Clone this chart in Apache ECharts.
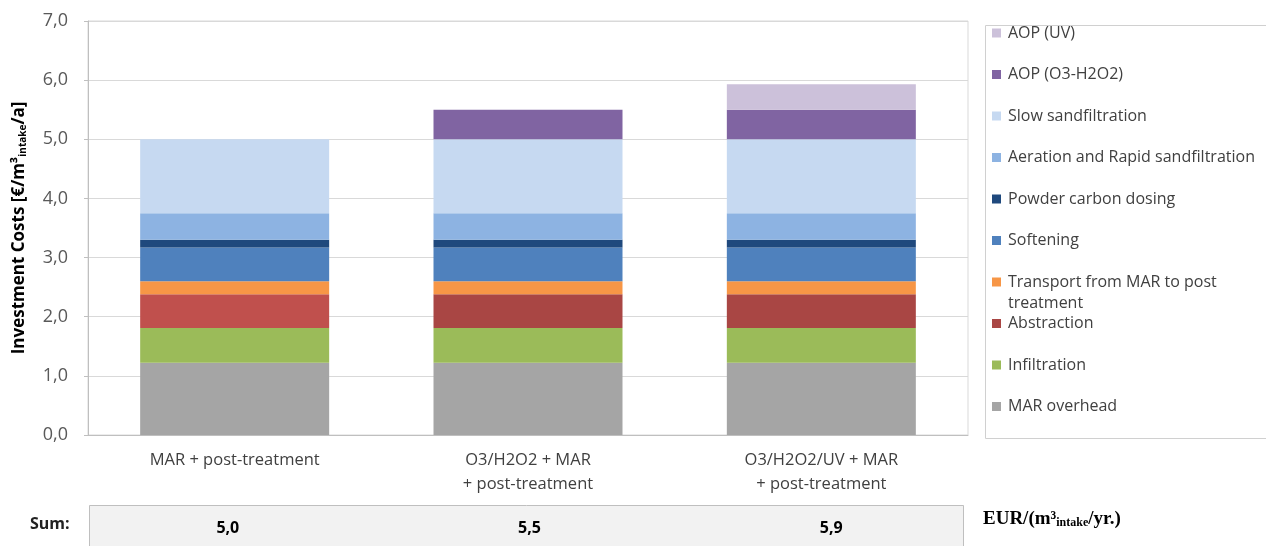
<!DOCTYPE html>
<html>
<head>
<meta charset="utf-8">
<script src="https://cdn.jsdelivr.net/npm/echarts@6/dist/echarts.min.js"></script>
<style>
  html, body { margin: 0; padding: 0; background: #fff; }
  #chart { width: 1266px; height: 546px; }
</style>
</head>
<body>
<div id="chart"></div>
<script>
// scenarios on the x axis
const categories = [
  'MAR + post-treatment',
  'O3/H2O2 + MAR\n+ post-treatment',
  'O3/H2O2/UV + MAR\n+ post-treatment'
];

// stacked cost components, bottom to top (€/m³ intake / a)
const marOverhead   = [1.22, 1.22, 1.22];
const infiltration  = [0.59, 0.59, 0.59];
const abstraction   = [0.57, 0.57, 0.57];
const transport     = [0.22, 0.22, 0.22];
const softening     = [0.57, 0.57, 0.57];
const powderCarbon  = [0.13, 0.13, 0.13];
const aeration      = [0.45, 0.45, 0.45];
const slowSand      = [1.25, 1.25, 1.25];
const aopO3         = [0, 0.50, 0.50];
const aopUV         = [0, 0, 0.43];

const yTicks = [0, 1, 2, 3, 4, 5, 6, 7];

const components = [
  { name: 'MAR overhead', data: marOverhead, color: '#a5a5a5' },
  { name: 'Infiltration', data: infiltration, color: '#9bbb59' },
  { name: 'Abstraction', data: abstraction, color: '#a94644' },
  { name: 'Transport from MAR to post', data: transport, color: '#f79646' },
  { name: 'Softening', data: softening, color: '#4f81bd' },
  { name: 'Powder carbon dosing', data: powderCarbon, color: '#1f497d' },
  { name: 'Aeration and Rapid sandfiltration', data: aeration, color: '#8db3e2' },
  { name: 'Slow sandfiltration', data: slowSand, color: '#c6d9f1' },
  { name: 'AOP (O3-H2O2)', data: aopO3, color: '#8064a2' },
  { name: 'AOP (UV)', data: aopUV, color: '#ccc1da' }
];

const fmt = v => v.toFixed(1).replace('.', ',');
const sums = categories.map((c, i) => components.reduce((s, k) => s + k.data[i], 0));

const chart = echarts.init(document.getElementById('chart'));

const series = components.map(c => ({
  name: c.name,
  type: 'bar',
  stack: 'cost',
  barWidth: 189,
  itemStyle: { color: c.color },
  data: c.data.map((v, i) =>
    // first scenario's abstraction block is drawn in the lighter red
    c.name === 'Abstraction' && i === 0 ? { value: v, itemStyle: { color: '#c0504d' } } : v
  )
}));

const option = {
  animation: false,
  textStyle: { fontFamily: '"Open Sans", sans-serif' },
  grid: [
    { left: 88, right: 298, top: 21, bottom: 111, show: true, borderColor: '#d9d9d9', borderWidth: 1 },
    { left: 77, right: 284, top: 480, height: 39 }
  ],
  legend: {
    orient: 'vertical',
    left: 992,
    top: 24,
    padding: 0,
    itemWidth: 9,
    itemHeight: 9,
    itemGap: 23.5,
    icon: 'rect',
    selectedMode: false,
    textStyle: { fontSize: 16, color: '#404040', lineHeight: 18, padding: [0, 0, 0, 2] },
    data: components.map(c => c.name).reverse()
  },
  xAxis: [
    {
      type: 'category',
      gridIndex: 0,
      data: categories,
      axisLine: { lineStyle: { color: '#bfbfbf' } },
      axisTick: { length: 6, lineStyle: { color: '#bfbfbf' } },
      axisLabel: { fontSize: 16.5, color: '#404040', lineHeight: 24, margin: 13 }
    },
    {
      type: 'category',
      gridIndex: 1,
      data: sums.map(fmt),
      axisLine: { show: false },
      axisTick: { show: false },
      axisLabel: { fontSize: 16, fontWeight: 'bold', color: '#000', margin: 1 }
    }
  ],
  yAxis: [
    {
      type: 'value',
      gridIndex: 0,
      min: yTicks[0],
      max: yTicks[yTicks.length - 1],
      interval: 1,
      axisLine: { show: true, lineStyle: { color: '#bfbfbf' } },
      axisTick: { show: true, length: 4, lineStyle: { color: '#bfbfbf' } },
      splitLine: { lineStyle: { color: '#d9d9d9' } },
      axisLabel: { fontSize: 18, color: '#595959', margin: 20, formatter: fmt },
      name: 'Investment Costs [€/m³{sub|intake}/a]',
      nameLocation: 'middle',
      nameRotate: 90,
      nameGap: 60,
      nameTextStyle: {
        fontSize: 17,
        fontWeight: 'bold',
        color: '#000',
        rich: { sub: { fontSize: 10, fontWeight: 'bold', color: '#000', verticalAlign: 'bottom', padding: [6, 0, 0, 0] } }
      }
    },
    { type: 'value', gridIndex: 1, show: false }
  ],
  graphic: [
    {
      type: 'rect', left: 983, top: 23, silent: true,
      shape: { width: 300, height: 413 },
      style: { fill: 'none', stroke: '#d0d0d0', lineWidth: 1 }
    },
    {
      type: 'text', left: 1008, top: 295, silent: true,
      style: { text: 'treatment', fontSize: 16, fill: '#404040', fontFamily: '"Open Sans", sans-serif' }
    },
    {
      type: 'rect', left: 89, top: 505, silent: true, z: -1,
      shape: { width: 874, height: 60 },
      style: { fill: '#f2f2f2', stroke: '#bfbfbf', lineWidth: 1 }
    },
    {
      type: 'text', left: 30, top: 516, silent: true,
      style: { text: 'Sum:', fontSize: 16, fontWeight: 'bold', fill: '#222', fontFamily: '"Open Sans", sans-serif' }
    },
    {
      type: 'text', left: 983, top: 510, silent: true,
      style: {
        text: 'EUR/(m³{sub|intake}/yr.)',
        fontSize: 19, fontWeight: 'bold', fill: '#000', fontFamily: '"Liberation Serif", serif',
        rich: { sub: { fontSize: 12, fontWeight: 'bold', fontFamily: '"Liberation Serif", serif', verticalAlign: 'bottom', padding: [7, 0, 0, 0] } }
      }
    }
  ],
  series: series
};

chart.setOption(option);
</script>
</body>
</html>
